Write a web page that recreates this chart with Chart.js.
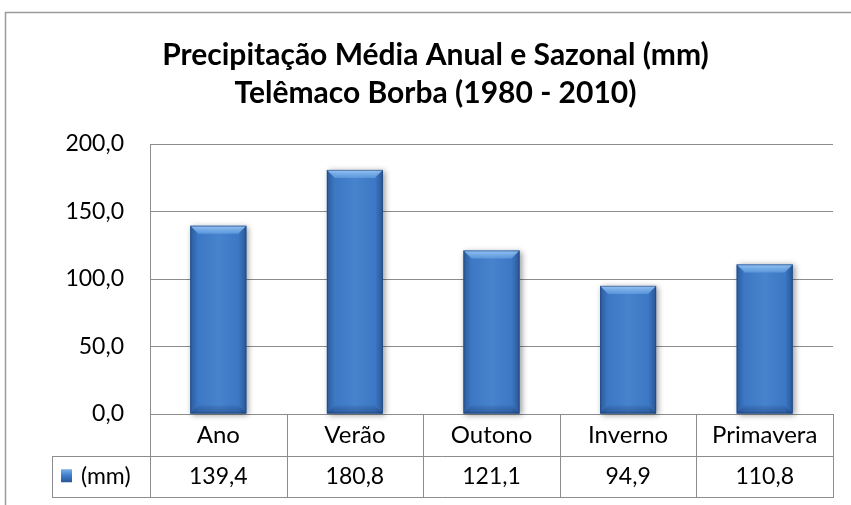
<!DOCTYPE html>
<html>
<head>
<meta charset="utf-8">
<script src="https://cdn.jsdelivr.net/npm/chart.js@4.4.0/dist/chart.umd.min.js"></script>
<style>
    body { margin: 0; background: #ffffff; overflow: hidden; }
    #wrap { position: relative; width: 851px; height: 505px; }
</style>
</head>
<body>
<div id="wrap"><canvas id="precipChart" width="851" height="505"></canvas></div>
<script>
const categories = ['Ano', 'Verão', 'Outono', 'Inverno', 'Primavera'];
const precipValues = [139.4, 180.8, 121.1, 94.9, 110.8];
const seriesLabel = '(mm)';
const yTickValues = [0, 50, 100, 150, 200];
const titleLines = ['Precipitação Média Anual e Sazonal (mm)', 'Telêmaco Borba (1980 - 2010)'];

const FONT = 'Lato, "Open Sans", sans-serif';
const LINE_COLOR = '#8c8c8c';
const BAR_COLOR = '#3e7cca';

function fmt(v) {
    return v.toFixed(1).replace('.', ',');
}

// outer frame of the chart object
const framePlugin = {
    id: 'frame',
    beforeDraw(chart) {
        const ctx = chart.ctx;
        ctx.save();
        ctx.strokeStyle = '#9a9a9a';
        ctx.lineWidth = 1.5;
        ctx.beginPath();
        ctx.moveTo(5.5, 520);
        ctx.lineTo(5.5, 12.5);
        ctx.lineTo(870, 12.5);
        ctx.stroke();
        ctx.restore();
    }
};

// shadow + bevel look of the excel bars
const bevelPlugin = {
    id: 'bevel',
    beforeDatasetsDraw(chart) {
        const ctx = chart.ctx;
        ctx.save();
        chart.getDatasetMeta(0).data.forEach(bar => {
            const l = bar.x - bar.width / 2;
            ctx.shadowColor = 'rgba(0,0,0,0.4)';
            ctx.shadowBlur = 6;
            ctx.shadowOffsetX = 2;
            ctx.shadowOffsetY = 1;
            ctx.fillStyle = BAR_COLOR;
            ctx.fillRect(l, bar.y, bar.width, bar.base - bar.y);
        });
        ctx.restore();
    },
    afterDatasetsDraw(chart) {
        const ctx = chart.ctx;
        ctx.save();
        chart.getDatasetMeta(0).data.forEach(bar => {
            const l = bar.x - bar.width / 2;
            const r = bar.x + bar.width / 2;
            const t = bar.y;
            const b = bar.base;
            const bv = 8;

            const g = ctx.createLinearGradient(l, 0, r, 0);
            g.addColorStop(0, 'rgba(10,30,70,0.35)');
            g.addColorStop(0.14, 'rgba(10,30,70,0.04)');
            g.addColorStop(0.5, 'rgba(255,255,255,0.05)');
            g.addColorStop(0.86, 'rgba(10,30,70,0.04)');
            g.addColorStop(1, 'rgba(10,30,70,0.4)');
            ctx.fillStyle = g;
            ctx.fillRect(l, t, r - l, b - t);

            // top bevel
            const tg = ctx.createLinearGradient(0, t, 0, t + bv);
            tg.addColorStop(0, 'rgba(160,205,250,0.9)');
            tg.addColorStop(1, 'rgba(110,168,232,0.6)');
            ctx.fillStyle = tg;
            ctx.beginPath();
            ctx.moveTo(l, t);
            ctx.lineTo(r, t);
            ctx.lineTo(r - bv, t + bv);
            ctx.lineTo(l + bv, t + bv);
            ctx.closePath();
            ctx.fill();

            // bottom bevel
            const bg = ctx.createLinearGradient(0, b - bv, 0, b);
            bg.addColorStop(0, 'rgba(20,45,95,0.1)');
            bg.addColorStop(1, 'rgba(20,45,95,0.4)');
            ctx.fillStyle = bg;
            ctx.beginPath();
            ctx.moveTo(l, b);
            ctx.lineTo(r, b);
            ctx.lineTo(r - bv, b - bv);
            ctx.lineTo(l + bv, b - bv);
            ctx.closePath();
            ctx.fill();

            ctx.strokeStyle = 'rgba(30,60,110,0.5)';
            ctx.lineWidth = 1;
            ctx.strokeRect(l + 0.5, t + 0.5, r - l - 1, b - t - 1);
        });
        ctx.restore();
    }
};

// data table under the plot
const dataTablePlugin = {
    id: 'dataTable',
    afterDraw(chart) {
        const ctx = chart.ctx;
        const area = chart.chartArea;
        const xs = chart.scales.x;
        const n = categories.length;
        const colW = (area.right - area.left) / n;
        const rowH = 41.5;
        const y0 = area.bottom;
        const y1 = y0 + rowH;
        const y2 = y1 + rowH;
        const legendLeft = 52.5;

        ctx.save();
        ctx.strokeStyle = LINE_COLOR;
        ctx.lineWidth = 1;
        ctx.beginPath();
        ctx.moveTo(legendLeft, Math.round(y1) + 0.5);
        ctx.lineTo(area.right, Math.round(y1) + 0.5);
        ctx.moveTo(legendLeft, Math.round(y2) + 0.5);
        ctx.lineTo(area.right, Math.round(y2) + 0.5);
        ctx.moveTo(legendLeft, Math.round(y1));
        ctx.lineTo(legendLeft, Math.round(y2) + 1);
        for (let i = 0; i <= n; i++) {
            const x = Math.round(area.left + i * colW) + 0.5;
            ctx.moveTo(x, i === 0 ? area.top : y0);
            ctx.lineTo(x, Math.round(y2) + 1);
        }
        ctx.stroke();

        // legend key
        const kx = 61, ky = y1 + rowH / 2 - 7;
        const kg = ctx.createLinearGradient(kx, ky, kx, ky + 13);
        kg.addColorStop(0, '#79aee8');
        kg.addColorStop(0.5, '#3e7cca');
        kg.addColorStop(1, '#2a5592');
        ctx.fillStyle = kg;
        ctx.fillRect(kx, ky, 11, 13);

        ctx.fillStyle = '#000000';
        ctx.font = '23px ' + FONT;
        ctx.textBaseline = 'middle';
        ctx.textAlign = 'left';
        ctx.fillText(seriesLabel, 81, y1 + rowH / 2);

        ctx.textAlign = 'center';
        precipValues.forEach((v, i) => {
            ctx.fillText(fmt(v), xs.getPixelForValue(i), y1 + rowH / 2);
        });
        ctx.restore();
    }
};

new Chart(document.getElementById('precipChart').getContext('2d'), {
    type: 'bar',
    data: {
        labels: categories,
        datasets: [{
            label: seriesLabel,
            data: precipValues,
            backgroundColor: BAR_COLOR,
            borderWidth: 0,
            barPercentage: 0.41,
            categoryPercentage: 1
        }]
    },
    options: {
        responsive: false,
        animation: false,
        layout: {
            padding: { top: 12, left: 38, right: 18, bottom: 0 }
        },
        plugins: {
            legend: { display: false },
            tooltip: { enabled: false },
            title: {
                display: true,
                text: titleLines,
                color: '#000000',
                font: { family: FONT, size: 30, weight: 'bold', lineHeight: '38px' },
                padding: { top: 24, bottom: 32 }
            }
        },
        scales: {
            x: {
                grid: { display: false, drawTicks: false },
                border: { display: false },
                ticks: {
                    color: '#000000',
                    font: { family: FONT, size: 24 },
                    padding: 7,
                    maxRotation: 0
                },
                afterFit(scale) { scale.height = 91; }
            },
            y: {
                min: 0,
                max: 200,
                afterBuildTicks(scale) {
                    scale.ticks = yTickValues.map(v => ({ value: v }));
                },
                grid: { color: LINE_COLOR, drawTicks: false },
                border: { display: true, color: LINE_COLOR },
                ticks: {
                    color: '#000000',
                    font: { family: FONT, size: 23 },
                    padding: 26,
                    callback: v => fmt(v)
                },
                afterFit(scale) { scale.width = 112; }
            }
        }
    },
    plugins: [framePlugin, bevelPlugin, dataTablePlugin]
});
</script>
</body>
</html>
